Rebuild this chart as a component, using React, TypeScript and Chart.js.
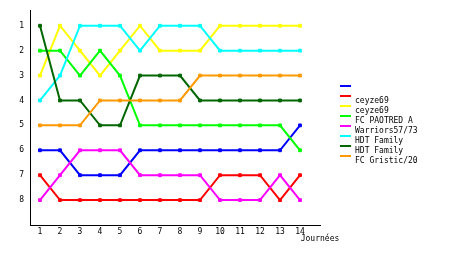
import React, { useEffect, useRef } from "react";
import { Chart, registerables } from "chart.js";

Chart.register(...registerables);

const journees = [1, 2, 3, 4, 5, 6, 7, 8, 9, 10, 11, 12, 13, 14];
const rankTicks = [1, 2, 3, 4, 5, 6, 7, 8];

const teamNames = ["", "ceyze69", "ceyze69", "FC PAOTRED A", "Warriors57/73", "HDT Family", "HDT Family", "FC Gristic/20"];
const teamColors = ["#0000ff", "#ff0000", "#ffff00", "#00ff00", "#ff00ff", "#00ffff", "#006600", "#ff9900"];

const blueRanks = [6, 6, 7, 7, 7, 6, 6, 6, 6, 6, 6, 6, 6, 5];
const redRanks = [7, 8, 8, 8, 8, 8, 8, 8, 8, 7, 7, 7, 8, 7];
const yellowRanks = [3, 1, 2, 3, 2, 1, 2, 2, 2, 1, 1, 1, 1, 1];
const limeRanks = [2, 2, 3, 2, 3, 5, 5, 5, 5, 5, 5, 5, 5, 6];
const magentaRanks = [8, 7, 6, 6, 6, 7, 7, 7, 7, 8, 8, 8, 7, 8];
const cyanRanks = [4, 3, 1, 1, 1, 2, 1, 1, 1, 2, 2, 2, 2, 2];
const darkGreenRanks = [1, 4, 4, 5, 5, 3, 3, 3, 4, 4, 4, 4, 4, 4];
const orangeRanks = [5, 5, 5, 4, 4, 4, 4, 4, 3, 3, 3, 3, 3, 3];

const allRanks = [blueRanks, redRanks, yellowRanks, limeRanks, magentaRanks, cyanRanks, darkGreenRanks, orangeRanks];

const xTitle = "Journées";
const FONT = "DejaVu Sans Mono";

const legendPlugin = {
  id: "customLegend",
  afterDraw(chart: any) {
    const ctx = chart.ctx;
    ctx.save();
    ctx.font = `8px "${FONT}"`;
    ctx.fillStyle = "#000";
    ctx.textBaseline = "alphabetic";
    teamColors.forEach((c, i) => {
      const y = 86 + 10 * i;
      ctx.fillStyle = c;
      ctx.fillRect(340, y - 1, 11, 2);
      ctx.fillStyle = "#000";
      ctx.textAlign = "left";
      if (teamNames[i]) ctx.fillText(teamNames[i], 355, y + 6.5 + 0);
    });
    const xs = chart.scales.x;
    ctx.textAlign = "center";
    ctx.fillText(xTitle, xs.right, 241);
    ctx.restore();
  },
};

export default function App() {
  const ref = useRef<HTMLCanvasElement>(null);
  useEffect(() => {
    if (!ref.current) return;
    const datasets = allRanks.map((ranks, i) => ({
      label: teamNames[i],
      data: ranks.map((r, j) => ({ x: journees[j], y: r })),
      borderColor: teamColors[i],
      backgroundColor: teamColors[i],
      borderWidth: 2,
      pointStyle: "rect" as const,
      pointRadius: 2,
      pointBorderWidth: 1,
      tension: 0,
      order: 8 - i,
    }));
    const chart = new Chart(ref.current, {
      type: "line",
      data: { datasets },
      plugins: [legendPlugin],
      options: {
        animation: false,
        responsive: false,
        devicePixelRatio: 1,
        layout: { padding: { left: 0, top: 10, right: 140, bottom: 0 } },
        plugins: { legend: { display: false }, tooltip: { enabled: false } },
        scales: {
          x: {
            type: "linear",
            min: 0.5,
            max: 15,
            afterFit: (s: any) => { s.height = 30; },
            afterBuildTicks: (s: any) => { s.ticks = journees.map((v) => ({ value: v })); },
            grid: { drawOnChartArea: false, drawTicks: false },
            border: { display: true, color: "#000", width: 1 },
            ticks: { padding: 2, color: "#000", font: { family: FONT, size: 8 }, maxRotation: 0, autoSkip: false },
          },
          y: {
            type: "linear",
            reverse: true,
            min: 0.4,
            max: 9,
            afterFit: (s: any) => { s.width = 30; },
            afterBuildTicks: (s: any) => { s.ticks = rankTicks.map((v) => ({ value: v })); },
            grid: { drawOnChartArea: false, drawTicks: false },
            border: { display: true, color: "#000", width: 1 },
            ticks: { padding: 6, color: "#000", font: { family: FONT, size: 8 } },
          },
        },
      },
    });
    return () => chart.destroy();
  }, []);
  return (
    <div style={{ position: "absolute", left: 0, top: 0, width: 460, height: 255, background: "#fff" }}>
      <canvas ref={ref} width={460} height={255} />
    </div>
  );
}
